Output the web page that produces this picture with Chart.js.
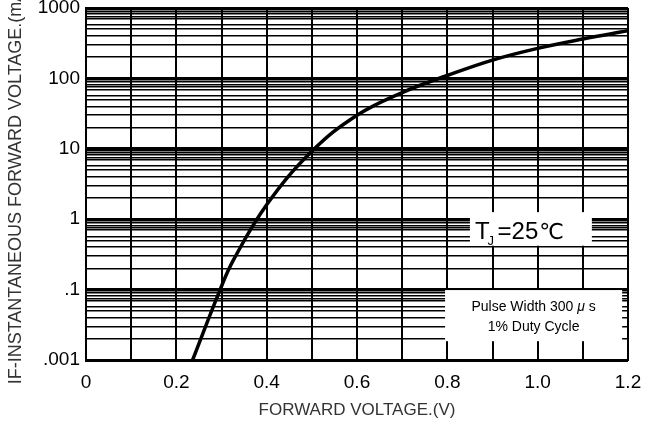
<!DOCTYPE html>
<html>
<head>
<meta charset="utf-8">
<script src="https://cdn.jsdelivr.net/npm/chart.js@4/dist/chart.umd.min.js"></script>
<style>
  html, body { margin: 0; padding: 0; background: #fff; }
  #wrap { width: 655px; height: 424px; }
</style>
</head>
<body>
<div id="wrap"><canvas id="ivChart" width="655" height="424"></canvas></div>
<script>
// Forward voltage (V) vs instantaneous forward current (mA)
const voltage = [0.236, 0.297, 0.326, 0.4, 0.5, 0.6, 0.7, 0.8, 0.9, 1.0, 1.1, 1.2];
const current = [0.01, 0.1, 0.26, 1.6, 9.2, 30, 63, 110, 182, 267, 363, 476];

// y tick labels as printed on the sheet (bottom one reads ".001")
const yDecades = [0.01, 0.1, 1, 10, 100, 1000];
const yTickLabels = ['.001', '.1', '1', '10', '100', '1000'];
// minor grid lines inside each decade
const minorSteps = [2, 3, 4, 5, 5.7, 7, 7.5, 8.2, 8.9, 9.5];
const xTickLabels = ['0', '0.2', '0.4', '0.6', '0.8', '1.0', '1.2'];

const labelFont = "'Liberation Sans', Arial, sans-serif";

const points = voltage.map((v, i) => ({ x: v, y: current[i] }));

// white boxes with the test conditions
const notesPlugin = {
  id: 'notes',
  afterDatasetsDraw(chart) {
    const ctx = chart.ctx;
    const xs = chart.scales.x, ys = chart.scales.y;
    ctx.save();
    // T_J = 25 C box
    let x0 = xs.getPixelForValue(0.85), x1 = xs.getPixelForValue(1.12);
    let y0 = ys.getPixelForValue(1.26), y1 = ys.getPixelForValue(0.42);
    ctx.fillStyle = '#fff';
    ctx.fillRect(x0, y0, x1 - x0, y1 - y0);
    ctx.fillStyle = '#000';
    ctx.textBaseline = 'alphabetic';
    ctx.textAlign = 'left';
    ctx.font = '24px ' + labelFont;
    const base = y0 + 27;
    ctx.fillText('T', x0 + 5, base);
    let tx = x0 + 5 + ctx.measureText('T').width;
    ctx.font = '13px ' + labelFont;
    ctx.fillText('J', tx - 2, base + 6);
    tx += 8;
    ctx.font = '24px ' + labelFont;
    ctx.fillText('=25', tx, base);
    tx += ctx.measureText('=25').width + 1;
    ctx.font = "22px 'DejaVu Sans', sans-serif";
    ctx.fillText('\u2103', tx, base);

    // pulse box
    x0 = xs.getPixelForValue(0.795); x1 = xs.getPixelForValue(1.187);
    y0 = ys.getPixelForValue(0.0985); y1 = ys.getPixelForValue(0.0185);
    ctx.fillStyle = '#fff';
    ctx.fillRect(x0, y0, x1 - x0, y1 - y0);
    ctx.fillStyle = '#000';
    const cx = (x0 + x1) / 2;
    const a = 'Pulse Width 300 ', m = '\u03bc', b = ' s';
    ctx.font = '14px ' + labelFont;
    const wa = ctx.measureText(a).width, wb = ctx.measureText(b).width;
    ctx.font = 'italic 14px ' + labelFont;
    const wm = ctx.measureText(m).width;
    const sx = cx - (wa + wm + wb) / 2;
    ctx.font = '14px ' + labelFont;
    ctx.fillText(a, sx, y0 + 21);
    ctx.font = 'italic 14px ' + labelFont;
    ctx.fillText(m, sx + wa, y0 + 21);
    ctx.font = '14px ' + labelFont;
    ctx.fillText(b, sx + wa + wm, y0 + 21);
    ctx.textAlign = 'center';
    ctx.fillText('1% Duty Cycle', cx, y0 + 41);
    ctx.restore();
  }
};

const chart = new Chart(document.getElementById('ivChart').getContext('2d'), {
  type: 'line',
  data: {
    datasets: [{
      data: points,
      borderColor: '#000',
      borderWidth: 3.5,
      pointRadius: 0,
      fill: false,
      tension: 0.4
    }]
  },
  options: {
    responsive: false,
    animation: false,
    layout: { padding: { top: 8, right: 27, left: 0, bottom: 0 } },
    plugins: { legend: { display: false }, tooltip: { enabled: false } },
    scales: {
      x: {
        type: 'linear',
        min: 0,
        max: 1.2,
        afterBuildTicks(scale) {
          scale.ticks = [];
          for (let i = 0; i <= 12; i++) scale.ticks.push({ value: i / 10 });
        },
        afterFit(scale) { scale.height = 64; },
        grid: { color: '#000', lineWidth: 2, drawTicks: false },
        border: { color: '#000', width: 2 },
        ticks: {
          padding: 11,
          color: '#000',
          font: { family: labelFont, size: 19 },
          maxRotation: 0,
          autoSkip: false,
          callback(value, index) {
            return index % 2 === 0 ? xTickLabels[index / 2] : '';
          }
        },
        title: {
          display: true,
          text: 'FORWARD VOLTAGE.(V)',
          color: '#333',
          font: { family: labelFont, size: 17 },
          padding: { top: 0, bottom: 3 }
        }
      },
      y: {
        type: 'logarithmic',
        min: 0.01,
        max: 1000,
        afterBuildTicks(scale) {
          const t = [];
          yDecades.forEach((d, i) => {
            t.push({ value: d, major: true });
            if (i < yDecades.length - 1) minorSteps.forEach(s => t.push({ value: d * s }));
          });
          scale.ticks = t;
        },
        afterFit(scale) {
          scale.width = 86;
          scale.paddingTop = 0;
          scale.paddingBottom = 0;
        },
        grid: {
          color: '#000',
          drawTicks: false,
          lineWidth(ctx) {
            return yDecades.includes(ctx.tick && ctx.tick.value) ? 3 : 1.5;
          }
        },
        border: { color: '#000', width: 2 },
        ticks: {
          padding: 6,
          color: '#000',
          font: { family: labelFont, size: 19 },
          autoSkip: false,
          callback(value) {
            const i = yDecades.indexOf(value);
            return i >= 0 ? yTickLabels[i] : '';
          }
        },
        title: {
          display: true,
          text: 'IF-INSTANTANEOUS FORWARD VOLTAGE.(mA)',
          color: '#333',
          font: { family: labelFont, size: 18 },
          padding: { top: 5, bottom: 0 }
        }
      }
    }
  },
  plugins: [notesPlugin]
});
</script>
</body>
</html>
